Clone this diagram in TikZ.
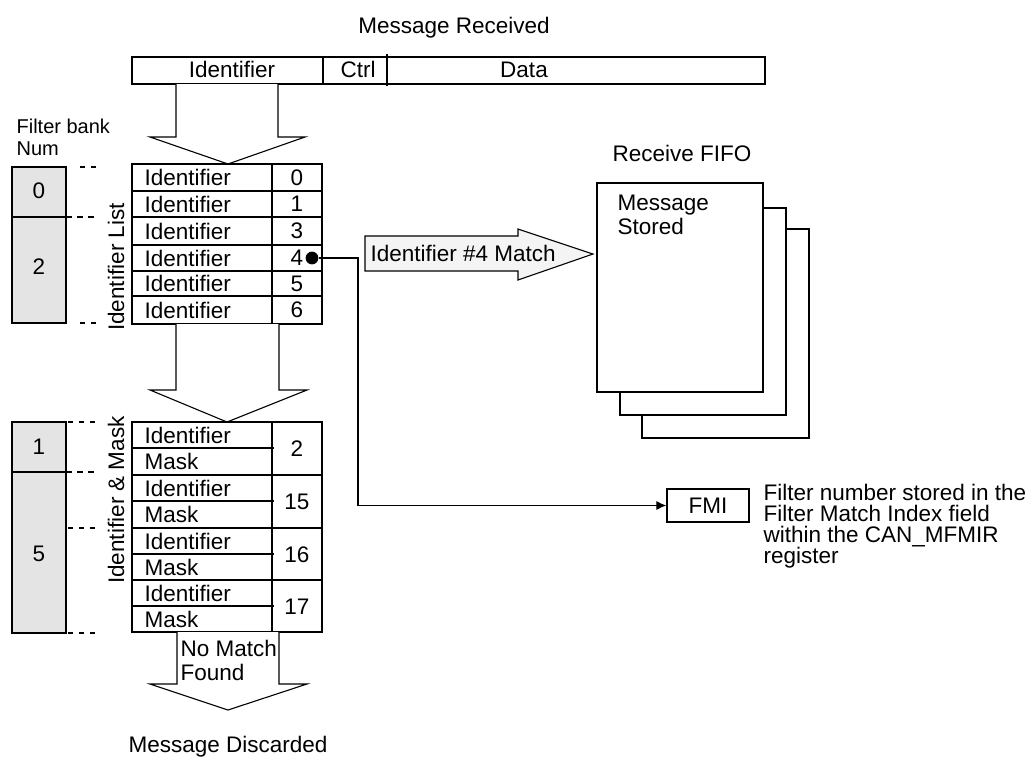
\documentclass[tikz,border=0pt]{standalone}
\usepackage{fontspec}
\setmainfont{Liberation Sans}
\usetikzlibrary{arrows.meta}
\definecolor{bankgray}{HTML}{E4E4E4}
\definecolor{matchgray}{HTML}{F4F4F4}
\newcommand{\fsmain}{\fontsize{22.5}{24}\selectfont}
\newcommand{\fssmall}{\fontsize{20}{22}\selectfont}
\begin{document}
\begin{tikzpicture}[x=1pt,y=-1pt,line width=1.2pt,
  every node/.style={inner sep=0pt,font=\fsmain},
  txt/.style={anchor=base},
  txtw/.style={anchor=base west},
  lbl/.style={anchor=west},
  bank/.style={draw,fill=bankgray},
  bigarrow/.style={draw,fill=white,line width=1.1pt,line join=miter},
  bankdash/.style={dash pattern=on 5pt off 6pt,line width=1.1pt},
  bankdashthick/.style={dash pattern=on 6pt off 5pt,line width=2pt},
  fifo/.style={draw,fill=white,line width=1.3pt},
]
\useasboundingbox (0,0) rectangle (1034,756);

% title and message bar
\node[txt] (title) at (454,33) {Message Received};
\draw (132,57) rectangle (765,84);
\draw (323,57) -- (323,84);
\draw (387,54) -- (387,86);
\node[txt] (mid) at (232,77) {Identifier};
\node[txt] (mctrl) at (358,77) {Ctrl};
\node[txt] (mdata) at (524,77) {Data};

% arrow 1
\draw[bigarrow] (176,84) -- (176,137) -- (150,137) -- (228,164) -- (305,137) -- (278,137) -- (278,84);

% filter bank title
\node[txtw,font=\fssmall] (fb1) at (16,133) {Filter bank};
\node[txtw,font=\fssmall] (fb2) at (16,155) {Num};

% banks 0,2
\draw[bank] (12,167) rectangle (66,323);
\draw (12,217) -- (66,217);
\node (b0) at (39,191) {0};
\node (b2) at (39,267) {2};
\draw[bankdash] (80,167) -- (97,167);
\draw[bankdashthick] (66,217) -- (97,217);
\draw[bankdash] (80,323) -- (97,323);

% identifier list
\node[rotate=90] (idlist) at (116,267) {Identifier List};
\draw (132,164) rectangle (322,324);
\draw (272,164) -- (272,324);
\foreach \y in {191,217,245,271,296} \draw (132,\y) -- (322,\y);
\foreach \n/\yc in {0/177.5,1/204,3/231,4/258,5/283.5,6/310} {
  \node[lbl] (idr\n) at (144,\yc) {Identifier};
  \node (num\n) at (297,\yc) {\n};
}
\node[circle,fill,inner sep=4.5pt] (dot) at (312,258) {};

% match arrow
\draw[fill=matchgray,line width=1.1pt] (365,236) -- (518,236) -- (518,229) -- (593,254) -- (518,280) -- (518,271) -- (365,271) -- cycle;
\node[lbl] (match) at (370,253) {Identifier \#4 Match};

% FIFO
\node[txtw] (fifot) at (612,161) {Receive FIFO};
\draw[fifo] (642,229) rectangle (809,438);
\draw[fifo] (620,208) rectangle (786,415);
\draw[fifo] (597,183) rectangle (763,392);
\node[txtw] (ms1) at (617,210) {Message};
\node[txtw] (ms2) at (617,234) {Stored};

% arrow 2
\draw[bigarrow] (176,324) -- (176,390) -- (150,390) -- (227,422) -- (307,390) -- (279,390) -- (279,324);

% banks 1,5
\draw[bank] (12,422) rectangle (66,633);
\draw[line width=2pt] (12,472) -- (66,472);
\node (b1) at (39,447) {1};
\node (b5) at (39,554) {5};
\draw[bankdash] (68,422) -- (97,422);
\draw[bankdashthick] (66,472) -- (97,472);
\draw[bankdash] (68,528) -- (97,528);
\draw[bankdash] (68,633) -- (97,633);

% identifier & mask
\node[rotate=90] (idmask) at (116,500) {Identifier \& Mask};
\draw (132,422) rectangle (322,632);
\draw (272,422) -- (272,632);
\draw (132,475) -- (322,475);
\draw[line width=2pt] (132,528) -- (322,528);
\draw (132,580) -- (322,580);
\foreach \y in {448,501,554,606} \draw (132,\y) -- (274,\y);
\foreach \k/\top/\n in {a/422/2,b/475/15,c/528/16,d/580/17} {
  \node[lbl] (mi\k) at (144,\top+13.5) {Identifier};
  \node[lbl] (mm\k) at (144,\top+39) {Mask};
  \node (mn\k) at (297,\top+27) {\n};
}

% arrow 3
\draw[bigarrow] (177,632) -- (177,684) -- (150,684) -- (228,710) -- (307,684) -- (279,684) -- (279,632);
\node[txtw] (nm1) at (180,656) {No Match};
\node[txtw] (nm2) at (180,680) {Found};
\node[txt] (disc) at (228,752) {Message Discarded};

% FMI
\node[draw,minimum width=82pt,minimum height=33pt,line width=1.2pt] (fmi) at (708,505.5) {FMI};
\draw[-{Latex[length=10pt,width=9pt]},line width=1.1pt] (dot) -- (358,258) |- (fmi.west);
\node[txtw] (d1) at (763,500) {Filter number stored in the};
\node[txtw] (d2) at (763,521) {Filter Match Index field};
\node[txtw] (d3) at (763,542) {within the CAN\_MFMIR};
\node[txtw] (d4) at (763,563) {register};
\end{tikzpicture}
\end{document}
